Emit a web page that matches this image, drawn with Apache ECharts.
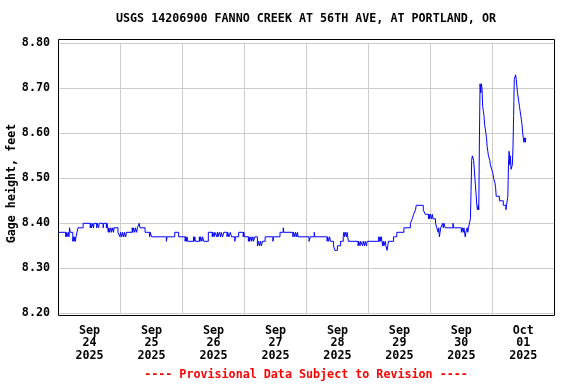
<!DOCTYPE html>
<html><head><meta charset="utf-8">
<script src="https://cdn.jsdelivr.net/npm/echarts@6/dist/echarts.min.js"></script>
<style>html,body{margin:0;padding:0;background:#fff}#c{width:576px;height:384px}</style>
</head><body><div id="c"></div>
<script>
const titleText = "USGS 14206900 FANNO CREEK AT 56TH AVE, AT PORTLAND, OR";
const yAxisName = "Gage height, feet";
const footerText = "---- Provisional Data Subject to Revision ----";
const dayLabels = ["Sep\n24\n2025","Sep\n25\n2025","Sep\n26\n2025","Sep\n27\n2025","Sep\n28\n2025","Sep\n29\n2025","Sep\n30\n2025","Oct\n01\n2025"];
const yMin = 8.2, yMax = 8.8, yStep = 0.1;

// gage height readings, [time, feet]
const sep24 = [["00:00",8.38],["02:45",8.37],["03:00",8.38],["03:15",8.37],["03:45",8.38],["04:00",8.37],["04:15",8.39],["04:30",8.38],["05:30",8.36],["05:45",8.37],["06:00",8.36],["06:15",8.37],["06:30",8.36],["06:45",8.37],["07:30",8.39],["09:30",8.40],["12:15",8.39],["12:30",8.40],["12:45",8.39],["13:15",8.40],["13:30",8.39],["13:45",8.40],["14:45",8.39],["15:00",8.40],["15:30",8.39],["15:45",8.40],["17:15",8.39],["17:30",8.40],["18:30",8.39],["18:45",8.40],["19:00",8.39],["19:15",8.38],["19:30",8.39],["19:45",8.38],["20:15",8.39],["20:30",8.38],["21:00",8.39],["21:15",8.38],["21:30",8.39],["23:00",8.38],["23:45",8.37]];
const sep25 = [["00:00",8.38],["00:30",8.37],["00:45",8.38],["01:15",8.37],["01:30",8.38],["02:00",8.37],["02:15",8.38],["04:30",8.39],["04:45",8.38],["05:00",8.39],["05:30",8.38],["05:45",8.39],["06:15",8.38],["06:30",8.39],["07:15",8.40],["07:30",8.39],["09:30",8.38],["11:15",8.37],["11:30",8.38],["12:00",8.37],["17:45",8.36],["18:00",8.37],["21:00",8.38],["22:30",8.37]];
const sep26 = [["01:00",8.36],["01:15",8.37],["01:30",8.36],["01:45",8.37],["02:00",8.36],["04:15",8.37],["04:30",8.36],["04:45",8.37],["05:00",8.36],["06:30",8.37],["06:45",8.36],["07:00",8.37],["07:30",8.36],["07:45",8.37],["08:15",8.36],["10:00",8.38],["11:30",8.37],["11:45",8.38],["12:15",8.37],["12:30",8.38],["13:15",8.37],["13:30",8.38],["13:45",8.37],["14:15",8.38],["14:45",8.37],["15:00",8.38],["15:30",8.37],["16:00",8.38],["17:15",8.37],["17:30",8.38],["18:00",8.37],["18:30",8.38],["19:00",8.37],["20:15",8.36],["20:30",8.37],["21:45",8.38],["23:30",8.37],["23:45",8.38]];
const sep27 = [["00:00",8.37],["01:30",8.36],["01:45",8.37],["02:00",8.36],["02:30",8.37],["02:45",8.36],["03:15",8.37],["03:30",8.36],["04:00",8.37],["05:00",8.35],["05:30",8.36],["05:45",8.35],["06:15",8.36],["06:30",8.35],["07:00",8.36],["08:00",8.37],["11:00",8.36],["11:15",8.37],["13:45",8.38],["15:00",8.39],["15:15",8.38],["18:45",8.37],["19:00",8.38],["19:30",8.37],["19:45",8.38],["20:15",8.37],["20:30",8.38],["20:45",8.37]];
const sep28 = [["01:00",8.36],["01:30",8.37],["03:00",8.38],["03:15",8.37],["08:00",8.36],["08:15",8.37],["08:30",8.36],["09:00",8.37],["09:15",8.36],["10:30",8.35],["11:00",8.34],["12:00",8.35],["13:15",8.36],["14:15",8.37],["14:30",8.38],["14:45",8.37],["15:00",8.38],["15:30",8.37],["15:45",8.38],["16:00",8.37],["16:15",8.36],["20:00",8.35],["20:15",8.36],["20:45",8.35],["21:00",8.36],["21:45",8.35],["22:00",8.36],["22:30",8.35],["22:45",8.36],["23:15",8.35],["23:30",8.36]];
const sep29 = [["04:00",8.37],["04:15",8.36],["04:30",8.37],["04:45",8.36],["05:00",8.37],["05:15",8.36],["05:30",8.35],["05:45",8.36],["06:00",8.35],["06:30",8.36],["06:45",8.35],["07:15",8.34],["07:30",8.35],["07:45",8.36],["09:45",8.37],["11:00",8.38],["13:45",8.39],["16:15",8.40],["17:00",8.41],["17:30",8.42],["18:15",8.43],["18:30",8.44],["21:15",8.43],["22:00",8.42],["23:15",8.41],["23:30",8.42],["23:45",8.41]];
const sep30 = [["00:00",8.42],["00:30",8.41],["00:45",8.42],["01:00",8.41],["02:00",8.40],["02:30",8.39],["03:00",8.38],["03:15",8.39],["03:30",8.37],["03:45",8.38],["04:00",8.39],["04:45",8.40],["05:00",8.39],["05:15",8.40],["05:45",8.39],["08:45",8.40],["09:00",8.39],["12:00",8.38],["12:15",8.39],["12:45",8.38],["13:00",8.39],["13:30",8.37],["13:45",8.38],["14:15",8.39],["14:30",8.38],["14:45",8.39],["15:30",8.41],["15:45",8.47],["16:00",8.54],["16:15",8.55],["16:45",8.54],["17:15",8.50],["18:00",8.44],["18:15",8.43],["18:30",8.44],["18:45",8.43],["19:00",8.59],["19:15",8.71],["19:30",8.69],["19:45",8.71],["20:00",8.70],["20:15",8.66],["20:30",8.65],["20:45",8.64],["21:00",8.62],["21:15",8.61],["21:30",8.60],["21:45",8.59],["22:00",8.57],["22:15",8.56],["22:30",8.55],["23:00",8.54],["23:15",8.53],["23:45",8.52]];
const oct01 = [["00:15",8.51],["00:30",8.50],["01:00",8.49],["01:15",8.48],["01:30",8.46],["02:45",8.45],["04:15",8.44],["05:15",8.43],["06:00",8.46],["06:15",8.53],["06:30",8.56],["06:45",8.53],["07:00",8.55],["07:15",8.52],["07:45",8.53],["08:00",8.57],["08:15",8.64],["08:30",8.72],["09:00",8.73],["09:15",8.72],["09:45",8.69],["10:15",8.67],["10:30",8.66],["10:45",8.65],["11:00",8.64],["11:15",8.63],["11:30",8.62],["11:45",8.60],["12:00",8.59],["12:15",8.58],["12:30",8.59],["12:45",8.58],["13:00",8.59]];

const days = [[9,24,sep24],[9,25,sep25],[9,26,sep26],[9,27,sep27],[9,28,sep28],[9,29,sep29],[9,30,sep30],[10,1,oct01]];
const DAY = 86400000;
function toMs(m, d, hm) { const p = hm.split(':').map(Number); return Date.UTC(2025, m - 1, d, p[0], p[1]); }
const seriesData = [];
days.forEach(([m, d, arr]) => arr.forEach(([t, v]) => seriesData.push([toMs(m, d, t), v])));
const xStart = Date.UTC(2025, 8, 24), xEnd = Date.UTC(2025, 9, 2);

const FONT = '"DejaVu Sans Mono", monospace';
const chart = echarts.init(document.getElementById('c'), null, { renderer: 'canvas' });
chart.setOption({
  animation: false,
  backgroundColor: '#fff',
  grid: { left: 58.6, right: 21.7, top: 43.3, bottom: 70.7, containLabel: false },
  xAxis: [
    { type: 'value', min: xStart, max: xEnd, interval: DAY,
      axisLine: { show: false }, axisTick: { show: false }, axisLabel: { show: false },
      splitLine: { show: true, lineStyle: { color: '#cccccc', width: 1 } } },
    { type: 'category', data: dayLabels, boundaryGap: true, position: 'bottom',
      axisLine: { show: false }, axisTick: { show: false }, splitLine: { show: false },
      axisLabel: { interval: 0, margin: 11, color: '#000', fontFamily: FONT, fontWeight: 'bold', fontSize: 11.7, lineHeight: 12.7 } }
  ],
  yAxis: { type: 'value', min: yMin, max: yMax, interval: yStep,
    axisLine: { show: false }, axisTick: { show: false },
    axisLabel: { margin: 8.6, color: '#000', fontFamily: FONT, fontWeight: 'bold', fontSize: 11.7, formatter: v => v.toFixed(2) },
    splitLine: { show: true, lineStyle: { color: '#cccccc', width: 1 } } },
  series: [{ type: 'line', xAxisIndex: 0, data: seriesData, step: 'end', symbol: 'none',
    lineStyle: { color: '#0000ff', width: 1 }, z: 3 }],
  graphic: [
    { type: 'rect', shape: { x: 58.5, y: 39.5, width: 496, height: 276 }, style: { fill: null, stroke: '#000', lineWidth: 1 }, z: 100, silent: true },
    { type: 'text', x: 306, y: 19, style: { text: titleText, textAlign: 'center', textVerticalAlign: 'middle', font: 'bold 11.7px ' + FONT, fill: '#000' } },
    { type: 'text', x: 12, y: 183.5, rotation: Math.PI / 2, style: { text: yAxisName, textAlign: 'center', textVerticalAlign: 'middle', font: 'bold 11.7px ' + FONT, fill: '#000' } },
    { type: 'text', x: 306, y: 375, style: { text: footerText, textAlign: 'center', textVerticalAlign: 'middle', font: 'bold 11.7px ' + FONT, fill: '#ff0000' } }
  ]
});
</script></body></html>
